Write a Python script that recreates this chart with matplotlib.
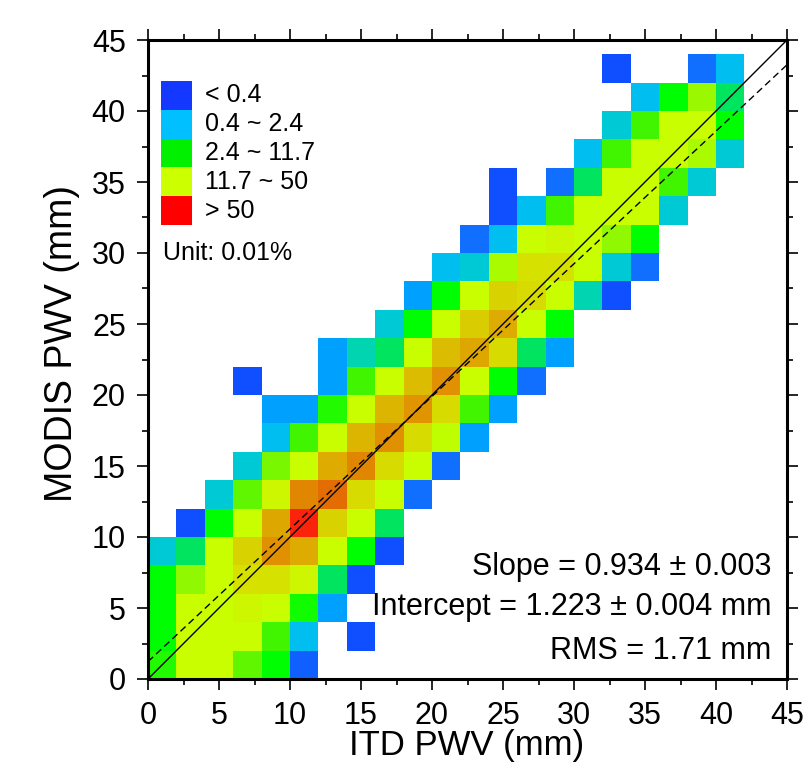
import numpy as np
import matplotlib
matplotlib.use("Agg")
import matplotlib.pyplot as plt
from matplotlib.colors import LinearSegmentedColormap, LogNorm
from matplotlib.patches import Rectangle

plt.rcParams['font.family'] = ['Liberation Sans', 'DejaVu Sans']

# ---------------- data ----------------
bin_width = 2.0
n_cols = 21          # ITD PWV bins 0-2 ... 40-42 mm
n_rows = 22          # MODIS PWV bins 0-2 ... 42-44 mm

# density (unit 0.01 %), rows listed from top (42-44 mm) to bottom (0-2 mm); 0 = empty
density_rows_top_down = [
    [0]*16 + [0.2, 0, 0, 0.3, 1.4],
    [0]*17 + [1.4, 5, 11, 3.2],
    [0]*16 + [2.0, 7, 18, 18, 5],
    [0]*15 + [1.4, 7, 18, 18, 13, 2.0],
    [0]*12 + [0.2, 0, 0.3, 3.2, 18, 18, 7, 2.0, 0],
    [0]*12 + [0.2, 1.4, 7, 18, 18, 18, 2.0, 0, 0],
    [0]*11 + [0.3, 1.4, 18, 20, 18, 10, 5, 0, 0, 0],
    [0]*10 + [1.4, 2.0, 13, 26, 26, 18, 2.0, 0.3, 0, 0, 0],
    [0]*9 + [0.8, 5, 18, 30, 28, 18, 2.6, 0.2, 0, 0, 0, 0],
    [0]*8 + [2.0, 5, 18, 32, 40, 18, 5] + [0]*6,
    [0]*6 + [0.8, 2.6, 3.2, 18, 36, 42, 28, 3.2, 0.8] + [0]*6,
    [0, 0, 0, 0.2, 0, 0, 0.8, 7, 18, 36, 48, 18, 5, 0.3] + [0]*7,
    [0, 0, 0, 0, 0.8, 0.8, 6, 18, 38, 46, 28, 7, 0.8] + [0]*8,
    [0, 0, 0, 0, 1.4, 7, 18, 38, 48, 28, 16, 0.8] + [0]*9,
    [0, 0, 0, 2.0, 9, 18, 40, 50, 28, 18, 0.3] + [0]*10,
    [0, 0, 2.0, 8, 20, 50, 58, 28, 18, 0.3] + [0]*11,
    [0, 0.2, 5, 18, 42, 85, 30, 18, 3.2] + [0]*12,
    [2.0, 3.2, 18, 30, 48, 40, 18, 5, 0.2] + [0]*12,
    [5, 10, 18, 26, 26, 20, 3.2, 0.2] + [0]*13,
    [5, 18, 18, 20, 18, 5.5, 0.8] + [0]*14,
    [5, 18, 18, 18, 7, 1.4, 0, 0.2] + [0]*13,
    [6, 18, 18, 8, 5, 0.25] + [0]*15,
]

slope = 0.934
intercept = 1.223
stats_lines = ["Slope = 0.934 ± 0.003",
               "Intercept = 1.223 ± 0.004 mm",
               "RMS = 1.71 mm"]

legend_labels = ["< 0.4", "0.4 ~ 2.4", "2.4 ~ 11.7", "11.7 ~ 50", "> 50"]
legend_colors = ["#1438ff", "#00c0ff", "#00f000", "#ccff00", "#ff0000"]
unit_text = "Unit: 0.01%"

xlabel = "ITD PWV (mm)"
ylabel = "MODIS PWV (mm)"

# ---------------- colormap (log density) ----------------
anchors = [(0.1, "#1030ff"), (0.2, "#1050ff"), (0.3, "#1070ff"), (0.8, "#00a0ff"),
           (1.4, "#00c0f0"), (2.0, "#00c8d8"), (2.6, "#00d4b0"), (3.2, "#00e460"),
           (5.0, "#00ff00"), (7.0, "#40f500"), (10.0, "#90f800"), (18.0, "#c8ff00"),
           (24.0, "#d4ec00"), (30.0, "#d8d400"), (38.0, "#dcb800"), (46.0, "#e09800"),
           (56.0, "#e07400"), (80.0, "#f83010"), (100.0, "#ff0000")]
vmin, vmax = 0.1, 100.0
pos = [(np.log10(v) - np.log10(vmin)) / (np.log10(vmax) - np.log10(vmin)) for v, _ in anchors]
cmap = LinearSegmentedColormap.from_list("dens", list(zip(pos, [c for _, c in anchors])))
norm = LogNorm(vmin=vmin, vmax=vmax)

dens = np.array(density_rows_top_down[::-1], dtype=float)
dens = np.ma.masked_where(dens <= 0, dens)
x_edges = np.arange(n_cols + 1) * bin_width
y_edges = np.arange(n_rows + 1) * bin_width

# ---------------- figure ----------------
fig = plt.figure(figsize=(8.06, 7.64), dpi=100)
ax = fig.add_axes([148/806, 1 - 679/764, 639/806, 639/764])

ax.pcolormesh(x_edges, y_edges, dens, cmap=cmap, norm=norm,
              edgecolors='none', antialiased=False, zorder=1)

xx = np.array([0, 45])
ax.plot(xx, xx, color='black', lw=1.0, zorder=3)
ax.plot(xx, slope * xx + intercept, color='black', lw=1.0, ls=(0, (5, 3)), zorder=3)

ax.set_xlim(0, 45)
ax.set_ylim(0, 45)
ax.set_xticks(np.arange(0, 46, 5))
ax.set_yticks(np.arange(0, 46, 5))
ax.set_xticks(np.arange(0, 46, 2.5), minor=True)
ax.set_yticks(np.arange(0, 46, 2.5), minor=True)
ax.tick_params(which='both', direction='out', top=True, right=True,
               width=1.2, labelsize=22, pad=8)
ax.tick_params(which='major', length=8)
ax.tick_params(which='minor', length=4)
for s in ax.spines.values():
    s.set_linewidth(2.2)

# legend
box_h = 28.8 / 639
box_w = 31 / 639
x0 = 13 / 639
y_top = (679 - 81) / 639
for k, (lab, col) in enumerate(zip(legend_labels, legend_colors)):
    yb = y_top - (k + 1) * box_h
    ax.add_patch(Rectangle((x0, yb), box_w, box_h, transform=ax.transAxes,
                           facecolor=col, edgecolor='none', zorder=4))
    ax.text(57 / 639, yb + box_h / 2, lab, transform=ax.transAxes,
            fontsize=18, va='center', ha='left', zorder=5)
ax.text(15 / 639, (679 - 253) / 639, unit_text, transform=ax.transAxes,
        fontsize=18, va='center', ha='left', zorder=5)

# statistics
stat_y = [(679 - 567) / 639, (679 - 607) / 639, (679 - 651) / 639]
for txt, yy in zip(stats_lines, stat_y):
    ax.text((771 - 148) / 639, yy, txt, transform=ax.transAxes,
            fontsize=22, ha='right', va='center', zorder=5)

fig.text(62 / 806, 1 - 343 / 764, ylabel, rotation=90, fontsize=27,
         ha='center', va='center')
fig.text(467 / 806, 1 - 755 / 764, xlabel, fontsize=25, ha='center', va='baseline')

fig.savefig("out.png", dpi=100, facecolor='white')
